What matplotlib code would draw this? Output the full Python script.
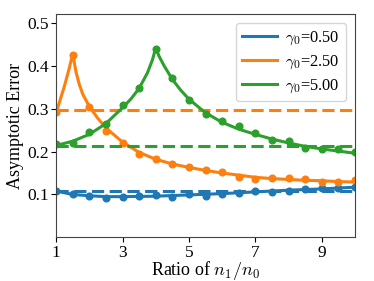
import matplotlib
matplotlib.use("Agg")
import matplotlib.pyplot as plt
import numpy as np

plt.rcParams["font.family"] = ["Liberation Serif", "DejaVu Serif"]
plt.rcParams["mathtext.fontset"] = "cm"

gammas = ["0.50", "2.50", "5.00"]
colors = ["#1f77b4", "#ff7f0e", "#2ca02c"]

# simulated points, every 0.5 from 1 to 10
x_pts = np.arange(1.0, 10.01, 0.5)
blue_pts = [0.109, 0.101, 0.096, 0.091, 0.094, 0.097, 0.099, 0.093, 0.102, 0.097,
            0.100, 0.104, 0.109, 0.106, 0.109, 0.112, 0.115, 0.115, 0.118]
orange_pts = [0.293, 0.425, 0.304, 0.248, 0.221, 0.194, 0.182, 0.172, 0.163, 0.157,
              0.153, 0.140, 0.136, 0.139, 0.138, 0.135, 0.128, 0.129, 0.133]
green_pts = [0.217, 0.221, 0.245, 0.265, 0.308, 0.348, 0.439, 0.371, 0.321, 0.288,
             0.270, 0.259, 0.242, 0.227, 0.225, 0.208, 0.205, 0.205, 0.198]

# theory curves
blue_x = [1, 1.5, 2, 2.5, 3, 4, 5, 6, 7, 8, 9, 10]
blue_y = [0.108, 0.100, 0.097, 0.095, 0.095, 0.096, 0.099, 0.102, 0.106, 0.110, 0.113, 0.117]
orange_x = [1, 1.25, 1.4, 1.5, 1.6, 1.7, 1.8, 2, 2.25, 2.5, 3, 3.5, 4, 4.5, 5,
            5.5, 6, 6.5, 7, 7.5, 8, 8.5, 9, 9.5, 10]
orange_y = [0.290, 0.352, 0.395, 0.428, 0.385, 0.356, 0.334, 0.305, 0.278, 0.255,
            0.222, 0.198, 0.182, 0.171, 0.163, 0.156, 0.150, 0.145, 0.140, 0.137,
            0.135, 0.133, 0.132, 0.130, 0.129]
green_x = [1, 1.5, 2, 2.5, 3, 3.25, 3.5, 3.75, 3.9, 4, 4.1, 4.25, 4.5, 4.75, 5,
           5.5, 6, 6.5, 7, 7.5, 8, 8.5, 9, 9.5, 10]
green_y = [0.214, 0.224, 0.240, 0.265, 0.302, 0.322, 0.347, 0.383, 0.413, 0.441,
           0.422, 0.400, 0.368, 0.343, 0.322, 0.290, 0.268, 0.252, 0.240, 0.229,
           0.220, 0.212, 0.206, 0.201, 0.196]

# limits (dashed)
limits = [0.109, 0.296, 0.213]

fig = plt.figure(figsize=(3.74, 2.81), dpi=100)
ax = fig.add_axes([0.150, 0.155, 0.799, 0.795])

curves = [(blue_x, blue_y), (orange_x, orange_y), (green_x, green_y)]
points = [blue_pts, orange_pts, green_pts]
for g, c, (cx, cy), py, lim in zip(gammas, colors, curves, points, limits):
    ax.axhline(lim, color=c, ls="--", lw=2.2, dashes=(4, 1.8))
    ax.plot(cx, cy, color=c, lw=2.2, label=r"$\gamma_0$=" + g)
    ax.plot(x_pts, py, "o", color=c, ms=4.8)

ax.set_xlim(1, 10)
ax.set_ylim(0, 0.52)
ax.set_xticks([1, 3, 5, 7, 9])
ax.set_yticks([0.1, 0.2, 0.3, 0.4, 0.5])
ax.tick_params(labelsize=12.5, pad=1.8)
ax.set_xlabel(r"Ratio of $n_1/n_0$", fontsize=13)
ax.xaxis.set_label_coords(0.5, -0.098, transform=ax.transAxes)
ax.xaxis.label.set_va("top")
ax.set_ylabel("Asymptotic Error", fontsize=13, labelpad=2)
for s in ax.spines.values():
    s.set_color("#444444")
ax.legend(loc="upper right", fontsize=11.8, handlelength=2.1, handletextpad=0.5,
          labelspacing=0.4, borderpad=0.4, borderaxespad=0.55)

fig.savefig("out.png", dpi=100)
